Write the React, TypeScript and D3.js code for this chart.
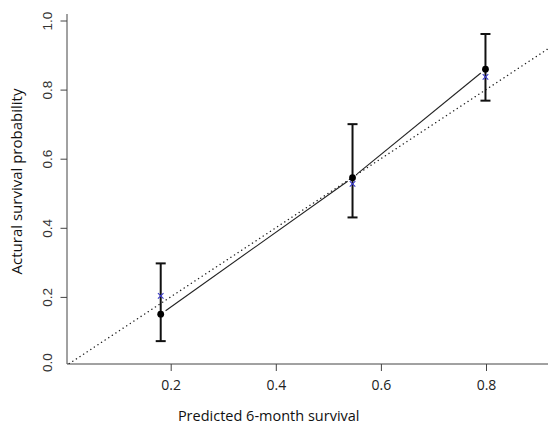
import { useEffect, useRef } from 'react';
import * as d3 from 'd3';

// calibration groups
const predicted = [0.181, 0.546, 0.799];
const observed = [0.15, 0.545, 0.859];
const lower = [0.072, 0.43, 0.768];
const upper = [0.297, 0.7, 0.961];
const estimated = [0.203, 0.527, 0.837];

const xTicks = [0.2, 0.4, 0.6, 0.8];
const yTicks = [0, 0.2, 0.4, 0.6, 0.8, 1.0];

const App = () => {
  const svgRef = useRef<SVGSVGElement>(null);

  useEffect(() => {
    document.body.style.margin = '0';
    const width = 548;
    const height = 428;
    const frame = { left: 67, right: 548, top: 14, bottom: 364 };

    const svg = d3.select(svgRef.current);
    svg.selectAll('*').remove();
    svg.attr('width', width).attr('height', height);

    const x = d3.scaleLinear().domain([0, 1]).range([65.6, 591.1]);
    const y = d3.scaleLinear().domain([0, 1]).range([366, 20.5]);

    svg.append('defs')
      .append('clipPath')
      .attr('id', 'plot-clip')
      .append('rect')
      .attr('x', frame.left)
      .attr('y', frame.top)
      .attr('width', frame.right - frame.left)
      .attr('height', frame.bottom - frame.top);

    // L-shaped frame
    svg.append('path')
      .attr('d', `M${frame.left},${frame.top}V${frame.bottom}H${frame.right}`)
      .attr('fill', 'none')
      .attr('stroke', '#444')
      .attr('stroke-width', 1);

    // Y axis
    const yAxis = svg.append('g')
      .attr('transform', `translate(${frame.left},0)`)
      .call(d3.axisLeft(y).tickValues(yTicks).tickSize(6.5).tickFormat(d3.format('.1f')));
    yAxis.select('.domain').remove();
    yAxis.selectAll('.tick line').attr('stroke', '#444');
    yAxis.selectAll('.tick').filter((d: any) => d === 0).select('line').remove();
    yAxis.selectAll('.tick text')
      .attr('transform', 'rotate(-90)')
      .attr('x', (d: any) => (d === 0 ? 4 : 0))
      .attr('y', -15.3)
      .attr('dy', 0)
      .attr('text-anchor', 'middle')
      .attr('fill', '#333')
      .style('font-family', '"Liberation Sans", Arial, sans-serif')
      .style('font-size', '13.5px');

    // X axis
    const xAxis = svg.append('g')
      .attr('transform', `translate(0,${frame.bottom})`)
      .call(d3.axisBottom(x).tickValues(xTicks).tickSize(7).tickFormat(d3.format('.1f')));
    xAxis.select('.domain').remove();
    xAxis.selectAll('.tick line').attr('stroke', '#444');
    xAxis.selectAll('.tick text')
      .attr('y', 26)
      .attr('dy', 0)
      .attr('fill', '#222')
      .style('font-family', '"Open Sans", sans-serif')
      .style('font-size', '14px');

    // Axis titles
    svg.append('text')
      .attr('x', 268.7)
      .attr('y', 421)
      .attr('text-anchor', 'middle')
      .attr('fill', '#111')
      .style('font-family', '"Open Sans", sans-serif')
      .style('font-size', '14.5px')
      .text('Predicted 6-month survival');

    svg.append('text')
      .attr('transform', 'translate(22,181.5) rotate(-90)')
      .attr('text-anchor', 'middle')
      .attr('fill', '#111')
      .style('font-family', '"Open Sans", sans-serif')
      .style('font-size', '15px')
      .text('Actural survival probability');

    const plot = svg.append('g').attr('clip-path', 'url(#plot-clip)');

    // Ideal line y = x
    plot.append('line')
      .attr('x1', x(0))
      .attr('y1', y(0))
      .attr('x2', x(1))
      .attr('y2', y(1))
      .attr('stroke', '#222')
      .attr('stroke-width', 1.4)
      .attr('stroke-linecap', 'round')
      .attr('stroke-dasharray', '0.1,4.2');

    // Observed line with gaps around points (type = "b")
    const gap = 6;
    for (let i = 0; i < predicted.length - 1; i++) {
      const x0 = x(predicted[i]);
      const y0 = y(observed[i]);
      const x1 = x(predicted[i + 1]);
      const y1 = y(observed[i + 1]);
      const len = Math.hypot(x1 - x0, y1 - y0);
      const ux = (x1 - x0) / len;
      const uy = (y1 - y0) / len;
      plot.append('line')
        .attr('x1', x0 + ux * gap)
        .attr('y1', y0 + uy * gap)
        .attr('x2', x1 - ux * gap)
        .attr('y2', y1 - uy * gap)
        .attr('stroke', '#222')
        .attr('stroke-width', 1.1);
    }

    // Error bars
    const bars = plot.selectAll('.err')
      .data(predicted)
      .enter()
      .append('g')
      .attr('class', 'err');
    bars.append('line')
      .attr('x1', d => x(d))
      .attr('x2', d => x(d))
      .attr('y1', (d, i) => y(lower[i]))
      .attr('y2', (d, i) => y(upper[i]))
      .attr('stroke', '#111')
      .attr('stroke-width', 2);
    bars.append('line')
      .attr('x1', d => x(d) - 5)
      .attr('x2', d => x(d) + 5)
      .attr('y1', (d, i) => y(upper[i]))
      .attr('y2', (d, i) => y(upper[i]))
      .attr('stroke', '#111')
      .attr('stroke-width', 2);
    bars.append('line')
      .attr('x1', d => x(d) - 5)
      .attr('x2', d => x(d) + 5)
      .attr('y1', (d, i) => y(lower[i]))
      .attr('y2', (d, i) => y(lower[i]))
      .attr('stroke', '#111')
      .attr('stroke-width', 2);

    // Blue crosses
    const cross = d3.symbol().type(d3.symbolX).size(22);
    plot.selectAll('.est')
      .data(predicted)
      .enter()
      .append('path')
      .attr('class', 'est')
      .attr('d', cross)
      .attr('transform', (d, i) => `translate(${x(d)},${y(estimated[i])})`)
      .attr('fill', 'none')
      .attr('stroke', '#3b3bc8')
      .attr('stroke-width', 1.1);

    // Observed points
    plot.selectAll('.obs')
      .data(predicted)
      .enter()
      .append('circle')
      .attr('class', 'obs')
      .attr('cx', d => x(d))
      .attr('cy', (d, i) => y(observed[i]))
      .attr('r', 3.4)
      .attr('fill', '#000');
  }, []);

  return <svg ref={svgRef} style={{ display: 'block', background: '#fff' }}></svg>;
};

export default App;
